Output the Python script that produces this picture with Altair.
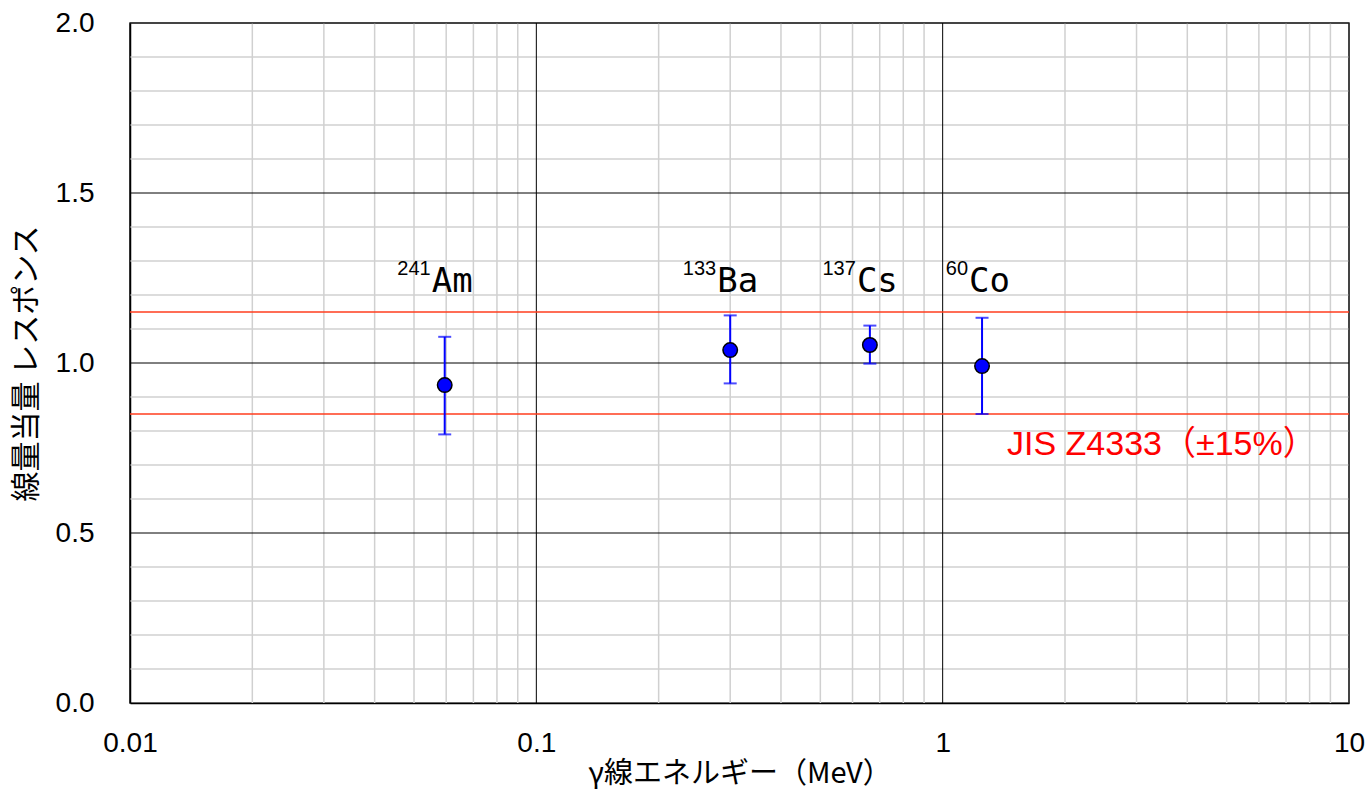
import altair as alt
import pandas as pd

# --- data ---
isotopes = ["Am", "Ba", "Cs", "Co"]
mass_numbers = ["241", "133", "137", "60"]
energy_mev = [0.0595, 0.30, 0.662, 1.25]
response = [0.935, 1.038, 1.053, 0.991]
err_low = [0.790, 0.940, 0.998, 0.850]
err_high = [1.077, 1.140, 1.110, 1.133]

jis_limits = [0.85, 1.15]
jis_label = ["JIS Z4333（±15%）"]

x_major_grid = [0.01, 0.1, 1, 10]
x_minor_grid = [0.02, 0.03, 0.04, 0.05, 0.06, 0.07, 0.08, 0.09,
                0.2, 0.3, 0.4, 0.5, 0.6, 0.7, 0.8, 0.9,
                2, 3, 4, 5, 6, 7, 8, 9]
y_major_grid = [0.5, 1.0, 1.5, 2.0]
y_minor_grid = [0.1, 0.2, 0.3, 0.4, 0.6, 0.7, 0.8, 0.9,
                1.1, 1.2, 1.3, 1.4, 1.6, 1.7, 1.8, 1.9]

x_ticks = [0.01, 0.1, 1, 10]
y_ticks = [0.0, 0.5, 1.0, 1.5, 2.0]

pts = pd.DataFrame({
    "iso": isotopes, "mass": mass_numbers, "E": energy_mev,
    "R": response, "lo": err_low, "hi": err_high,
    "ly": [1.21] * 4,
})

xscale = alt.Scale(type="log", domain=[0.01, 10], nice=False)
yscale = alt.Scale(domain=[0, 2], nice=False, zero=False)

LABEL_FONT = "Liberation Sans"
JP_FONT = "Noto Sans CJK JP"

xaxis = alt.Axis(values=x_ticks, format="~g", grid=False, ticks=False,
                 labelFont=LABEL_FONT, labelFontSize=28, labelColor="black",
                 labelPadding=26, domainColor="black", domainWidth=1.5,
                 title="γ線エネルギー（MeV）", titleFont=JP_FONT,
                 titleFontSize=29, titleFontWeight="normal", titleColor="black",
                 titlePadding=2, labelFlush=False)
yaxis = alt.Axis(values=y_ticks, format=".1f", grid=False, ticks=False,
                 labelFont=LABEL_FONT, labelFontSize=28, labelColor="black",
                 labelPadding=36, domainColor="black", domainWidth=1.5,
                 title="線量当量 レスポンス", titleFont=JP_FONT,
                 titleFontSize=30, titleFontWeight="normal", titleColor="black",
                 titlePadding=14, labelFlush=False)

base = alt.Chart(pts)

minor_x = alt.Chart(pd.DataFrame({"x": x_minor_grid})).mark_rule(
    color="#d0d0d0", strokeWidth=1.5).encode(x=alt.X("x:Q", scale=xscale, axis=xaxis))
minor_y = alt.Chart(pd.DataFrame({"y": y_minor_grid})).mark_rule(
    color="#d0d0d0", strokeWidth=1.5).encode(y=alt.Y("y:Q", scale=yscale, axis=yaxis))
major_x = alt.Chart(pd.DataFrame({"x": x_major_grid})).mark_rule(
    color="black", strokeWidth=1).encode(x=alt.X("x:Q", scale=xscale))
major_y = alt.Chart(pd.DataFrame({"y": y_major_grid})).mark_rule(
    color="black", strokeWidth=1).encode(y=alt.Y("y:Q", scale=yscale))

limits = alt.Chart(pd.DataFrame({"y": jis_limits})).mark_rule(
    color="#ff3c1e", strokeWidth=1.6).encode(y=alt.Y("y:Q", scale=yscale))

errbar = base.mark_rule(color="#0000ff", strokeWidth=2).encode(
    x=alt.X("E:Q", scale=xscale), y=alt.Y("lo:Q", scale=yscale), y2="hi:Q")
cap_lo = base.mark_tick(color="#0000ff", thickness=2, size=13, orient="horizontal").encode(
    x=alt.X("E:Q", scale=xscale), y=alt.Y("lo:Q", scale=yscale))
cap_hi = base.mark_tick(color="#0000ff", thickness=2, size=13, orient="horizontal").encode(
    x=alt.X("E:Q", scale=xscale), y=alt.Y("hi:Q", scale=yscale))

points = base.mark_point(filled=True, shape="circle", size=210, fill="#0000ff",
                         stroke="black", strokeWidth=1.5, opacity=1).encode(
    x=alt.X("E:Q", scale=xscale), y=alt.Y("R:Q", scale=yscale))

main_txt = base.mark_text(align="left", baseline="alphabetic", dx=-13,
                          font="DejaVu Sans Mono", fontSize=34, color="black").encode(
    x=alt.X("E:Q", scale=xscale), y=alt.Y("ly:Q", scale=yscale), text="iso:N")
sup_txt = base.mark_text(align="right", baseline="alphabetic", dx=-14, dy=-17,
                         font=LABEL_FONT, fontSize=20, color="black").encode(
    x=alt.X("E:Q", scale=xscale), y=alt.Y("ly:Q", scale=yscale), text="mass:N")

jis = alt.Chart(pd.DataFrame({"t": jis_label, "x": [1.44], "y": [0.73]})).mark_text(
    align="left", baseline="alphabetic", font="Liberation Sans, Noto Sans CJK JP",
    fontSize=34, color="#ff0000").encode(
    x=alt.X("x:Q", scale=xscale), y=alt.Y("y:Q", scale=yscale), text="t:N")

chart = alt.layer(minor_x, minor_y, major_x, major_y, limits, errbar, cap_lo, cap_hi,
                  points, main_txt, sup_txt, jis).properties(
    width=1219, height=680,
    autosize=alt.AutoSizeParams(type="none"),
    padding={"left": 130, "top": 23, "right": 20, "bottom": 92},
    background="white",
).configure_view(stroke="#888888", strokeWidth=2)

chart.save("out.html", embed_options={"renderer": "svg", "actions": False})
